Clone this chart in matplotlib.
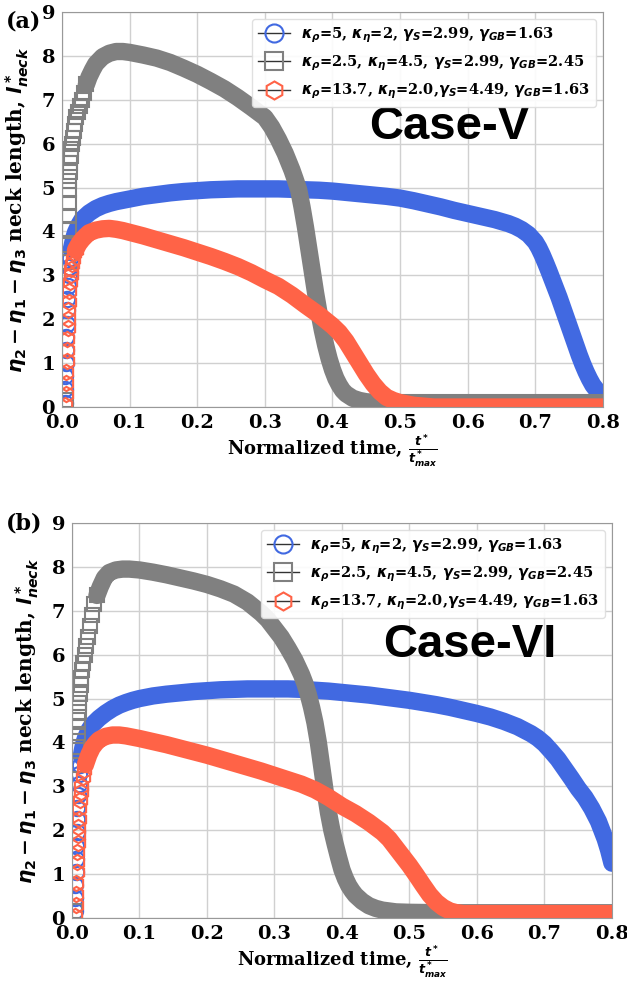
import matplotlib
matplotlib.use("Agg")
import matplotlib.pyplot as plt
from matplotlib.lines import Line2D

plt.rcParams["font.family"] = "DejaVu Serif"
plt.rcParams["font.weight"] = "bold"
plt.rcParams["mathtext.fontset"] = "dejavusans"

# ---------------- panel (a): Case-V ----------------
blue_a_t = [0.004, 0.0045, 0.005, 0.0055, 0.006, 0.0065, 0.007, 0.0075, 0.008,
            0.009, 0.010, 0.011, 0.012, 0.014, 0.016, 0.018, 0.02, 0.025, 0.03,
            0.04, 0.05, 0.06, 0.07, 0.08, 0.09, 0.10,
            0.12, 0.14, 0.16, 0.18, 0.20, 0.22, 0.24, 0.26, 0.28, 0.30,
            0.32, 0.34, 0.36, 0.38, 0.40, 0.42, 0.44, 0.46, 0.48, 0.50,
            0.52, 0.54, 0.56, 0.58, 0.60, 0.62, 0.64, 0.66,
            0.67, 0.68, 0.69, 0.70,
            0.705, 0.71, 0.715, 0.72, 0.725, 0.73, 0.735, 0.74, 0.745, 0.75,
            0.755, 0.76, 0.765, 0.77, 0.775, 0.78, 0.785, 0.79, 0.795, 0.80]
blue_a_v = [0.1, 0.4, 0.7, 1.0, 1.3, 1.6, 1.9, 2.2, 2.45,
            2.75, 3.0, 3.2, 3.4, 3.6, 3.75, 3.88, 3.98, 4.15, 4.28,
            4.42, 4.52, 4.59, 4.64, 4.68, 4.71, 4.74,
            4.8, 4.84, 4.88, 4.91, 4.93, 4.95, 4.96, 4.97, 4.97, 4.97,
            4.97, 4.96, 4.95, 4.94, 4.92, 4.89, 4.86, 4.83, 4.8, 4.76,
            4.7, 4.63, 4.56, 4.48, 4.41, 4.34, 4.27, 4.18,
            4.12, 4.04, 3.93, 3.76,
            3.63, 3.47, 3.29, 3.1, 2.9, 2.7, 2.5, 2.28, 2.06, 1.84,
            1.62, 1.4, 1.18, 0.98, 0.8, 0.64, 0.5, 0.4, 0.32, 0.26]

gray_a_t = [0.006, 0.009, 0.0093, 0.0096, 0.0099, 0.0102, 0.0105,
            0.011, 0.0116, 0.0123, 0.013, 0.014, 0.015, 0.016, 0.0175, 0.019,
            0.021, 0.023, 0.026, 0.029, 0.032, 0.036, 0.04, 0.045, 0.05,
            0.06, 0.07, 0.08, 0.09, 0.10,
            0.12, 0.14, 0.16, 0.18, 0.20, 0.22, 0.24, 0.26, 0.28, 0.30,
            0.31, 0.32, 0.33, 0.34,
            0.345, 0.35, 0.355, 0.36, 0.365, 0.37, 0.375, 0.38, 0.385, 0.39,
            0.395, 0.40, 0.405, 0.41, 0.415, 0.42,
            0.43, 0.44, 0.45, 0.47, 0.50,
            0.55, 0.60, 0.65, 0.70, 0.75, 0.80]
gray_a_v = [0.15, 3.3, 3.7, 4.05, 4.35, 4.65, 4.95,
            5.15, 5.35, 5.55, 5.72, 5.88, 6.0, 6.12, 6.3, 6.45,
            6.6, 6.72, 6.87, 7.0, 7.15, 7.35, 7.52, 7.68, 7.82,
            7.98, 8.06, 8.1, 8.1, 8.08,
            8.02, 7.95, 7.85, 7.72, 7.58, 7.42, 7.25, 7.05, 6.83, 6.6,
            6.38, 6.1, 5.78, 5.4,
            5.18, 4.95, 4.55, 4.1, 3.6, 3.1, 2.6, 2.15, 1.75, 1.4,
            1.1, 0.85, 0.65, 0.5, 0.38, 0.3,
            0.2, 0.15, 0.12, 0.1, 0.1,
            0.1, 0.1, 0.1, 0.1, 0.1, 0.1]

red_a_t = [0.005, 0.0055, 0.006, 0.0065, 0.007, 0.0075, 0.008, 0.0085, 0.009,
           0.0095, 0.010,
           0.011, 0.012, 0.013, 0.014, 0.015, 0.016, 0.018, 0.02,
           0.025, 0.03, 0.035, 0.04,
           0.05, 0.06, 0.07, 0.08, 0.09, 0.10,
           0.12, 0.14, 0.16, 0.18, 0.20, 0.22, 0.24, 0.26, 0.28, 0.30,
           0.32, 0.34, 0.36, 0.38, 0.40,
           0.41, 0.42, 0.43, 0.44, 0.45, 0.46, 0.47, 0.48, 0.49, 0.50,
           0.52, 0.55, 0.60, 0.65, 0.70, 0.75, 0.80]
red_a_v = [0.05, 0.3, 0.55, 0.8, 1.05, 1.3, 1.55, 1.8, 2.0,
           2.2, 2.4,
           2.65, 2.85, 3.0, 3.15, 3.27, 3.38, 3.5, 3.58,
           3.72, 3.82, 3.9, 3.97,
           4.03, 4.06, 4.07, 4.05, 4.02, 3.98,
           3.9, 3.81, 3.72, 3.63, 3.53, 3.43, 3.32, 3.2, 3.06, 2.9,
           2.75, 2.55, 2.32, 2.1, 1.85,
           1.7, 1.5, 1.25, 1.0, 0.75, 0.53, 0.35, 0.22, 0.15, 0.1,
           0.04, 0.0, 0.0, 0.0, 0.0, 0.0, 0.0]

# ---------------- panel (b): Case-VI ----------------
blue_b_t = [0.004, 0.0045, 0.005, 0.0055, 0.006, 0.0065, 0.007, 0.0075, 0.008,
            0.009, 0.010, 0.011, 0.012, 0.014, 0.016, 0.018, 0.02, 0.025, 0.03,
            0.04, 0.05, 0.06, 0.07, 0.08, 0.09, 0.10,
            0.12, 0.14, 0.16, 0.18, 0.20, 0.22, 0.24, 0.26, 0.28, 0.30,
            0.32, 0.34, 0.36, 0.38, 0.40, 0.42, 0.44, 0.46, 0.48, 0.50,
            0.52, 0.54, 0.56, 0.58, 0.60, 0.62, 0.64, 0.66, 0.68,
            0.69, 0.70, 0.71, 0.72, 0.73, 0.74, 0.75, 0.76, 0.77, 0.78,
            0.785, 0.79, 0.795, 0.80]
blue_b_v = [0.15, 0.45, 0.75, 1.05, 1.35, 1.65, 1.95, 2.25, 2.5,
            2.8, 3.05, 3.28, 3.48, 3.7, 3.87, 4.0, 4.1, 4.28, 4.4,
            4.55, 4.67, 4.77, 4.85, 4.91, 4.96, 5.0,
            5.06, 5.1, 5.13, 5.16, 5.18, 5.2, 5.21, 5.22, 5.22, 5.22,
            5.22, 5.21, 5.19, 5.17, 5.14, 5.11, 5.08, 5.04, 5.0, 4.96,
            4.91, 4.86, 4.8, 4.73, 4.66, 4.58, 4.48, 4.36, 4.2,
            4.1, 3.97, 3.8, 3.62, 3.4, 3.18, 2.95, 2.75, 2.5, 2.2,
            2.0, 1.8, 1.55, 1.25]

gray_b_t = [0.004, 0.0075, 0.008, 0.0085, 0.009, 0.0095, 0.0102, 0.011, 0.012,
            0.013, 0.014, 0.0155, 0.017, 0.019, 0.021, 0.023, 0.026, 0.029,
            0.033, 0.037, 0.042, 0.048, 0.055, 0.065, 0.075, 0.085, 0.10,
            0.12, 0.14, 0.16, 0.18, 0.20, 0.22, 0.24, 0.26, 0.28,
            0.29, 0.30, 0.31, 0.32, 0.33, 0.34,
            0.345, 0.35, 0.355, 0.36, 0.365, 0.37, 0.375, 0.38, 0.385, 0.39,
            0.395, 0.40, 0.405, 0.41, 0.415, 0.42,
            0.43, 0.44, 0.45, 0.46, 0.48, 0.50,
            0.55, 0.60, 0.65, 0.70, 0.75, 0.80]
gray_b_v = [0.15, 3.48, 3.9, 4.15, 4.35, 4.52, 4.7, 4.9, 5.1,
            5.3, 5.48, 5.65, 5.82, 6.0, 6.2, 6.4, 6.65, 6.9,
            7.15, 7.35, 7.55, 7.75, 7.87, 7.93, 7.95, 7.95, 7.93,
            7.88, 7.82, 7.75, 7.68, 7.6, 7.5, 7.38, 7.2, 6.95,
            6.8, 6.6, 6.4, 6.15, 5.88, 5.55,
            5.35, 5.1, 4.8, 4.45, 4.0, 3.45, 2.9, 2.4, 2.0, 1.68,
            1.38, 1.1, 0.9, 0.74, 0.62, 0.52,
            0.38, 0.28, 0.22, 0.18, 0.14, 0.13,
            0.12, 0.12, 0.12, 0.12, 0.12, 0.12]

red_b_t = [0.005, 0.0055, 0.006, 0.0065, 0.007, 0.0075, 0.008, 0.0085, 0.009,
           0.0095, 0.010, 0.011, 0.012, 0.013, 0.014, 0.016, 0.018, 0.02,
           0.025, 0.03, 0.035, 0.04, 0.05, 0.06, 0.07, 0.08, 0.09, 0.10,
           0.12, 0.14, 0.16, 0.18, 0.20, 0.22, 0.24, 0.26, 0.28, 0.30,
           0.32, 0.34, 0.36, 0.38, 0.40, 0.42, 0.44, 0.46,
           0.47, 0.48, 0.49, 0.50, 0.51, 0.52, 0.53, 0.54, 0.55, 0.56, 0.57, 0.58,
           0.60, 0.65, 0.70, 0.75, 0.80]
red_b_v = [0.05, 0.3, 0.55, 0.8, 1.05, 1.28, 1.5, 1.7, 1.9,
           2.08, 2.25, 2.5, 2.7, 2.88, 3.0, 3.22, 3.38, 3.5,
           3.72, 3.88, 3.98, 4.06, 4.14, 4.17, 4.17, 4.15, 4.12, 4.09,
           4.02, 3.95, 3.87, 3.79, 3.71, 3.62, 3.53, 3.44, 3.35, 3.25,
           3.15, 3.05, 2.92, 2.75, 2.55, 2.38, 2.18, 1.95,
           1.8, 1.6, 1.4, 1.2, 0.98, 0.75, 0.53, 0.36, 0.24, 0.16, 0.12, 0.1,
           0.1, 0.1, 0.1, 0.1, 0.1]

labels = [
    r"$\boldsymbol{\kappa_\rho}$=5, $\boldsymbol{\kappa_\eta}$=2, "
    r"$\boldsymbol{\gamma_S}$=2.99, $\boldsymbol{\gamma_{GB}}$=1.63",
    r"$\boldsymbol{\kappa_\rho}$=2.5, $\boldsymbol{\kappa_\eta}$=4.5, "
    r"$\boldsymbol{\gamma_S}$=2.99, $\boldsymbol{\gamma_{GB}}$=2.45",
    r"$\boldsymbol{\kappa_\rho}$=13.7, $\boldsymbol{\kappa_\eta}$=2.0,"
    r"$\boldsymbol{\gamma_S}$=4.49, $\boldsymbol{\gamma_{GB}}$=1.63",
]
xticks = [0.0, 0.1, 0.2, 0.3, 0.4, 0.5, 0.6, 0.7, 0.8]
yticks = [0, 1, 2, 3, 4, 5, 6, 7, 8, 9]

colors = ["#4169E1", "#808080", "#FF6347"]
markers = ["o", "s", "h"]
msizes = [11, 9.5, 11]
band_from = [0.014, 0.035, 0.02]   # where the marker cloud turns into a solid band


def draw_panel(ax, series, case_text, case_xy):
    for (t, v), c, m, ms, t0 in zip(series, colors, markers, msizes, band_from):
        i0 = next(i for i, x in enumerate(t) if x >= t0)
        ax.plot(t[i0:], v[i0:], color=c, lw=12.5, solid_capstyle="round",
                solid_joinstyle="round", zorder=2)
        ax.plot(t[:i0 + 1], v[:i0 + 1], ls="none", marker=m, ms=ms, mfc="none",
                mec=c, mew=1.5, zorder=2)

    ax.set_xlim(0, 0.8); ax.set_ylim(0, 9)
    ax.set_xticks(xticks); ax.set_yticks(yticks)
    ax.set_xticklabels([f"{x:.1f}" for x in xticks])
    ax.tick_params(labelsize=14, length=0, pad=5)
    ax.grid(True, color="#d0d0d0", lw=1); ax.set_axisbelow(True)
    for sp in ax.spines.values():
        sp.set_color("#999999")

    ax.set_xlabel(r"Normalized time, $\boldsymbol{\frac{t^*}{t^*_{max}}}$",
                  fontsize=13, fontweight="bold", labelpad=0)
    ax.set_ylabel(r"$\boldsymbol{\eta_2 - \eta_1 - \eta_3}$ neck length, "
                  r"$\boldsymbol{l^*_{neck}}$", fontsize=14.5, fontweight="bold")
    ax.yaxis.set_label_coords(-0.058, 0.5)

    handles = [Line2D([0], [0], color="#333333", lw=1, marker=m, ms=13, mfc="none",
                      mec=c, mew=1.5) for c, m in zip(colors, markers)]
    ax.legend(handles, labels, loc="upper right", handlelength=2.2, labelspacing=0.6,
              framealpha=0.9, edgecolor="#dddddd", prop={"weight": "bold", "size": 10.5})
    ax.text(case_xy[0], case_xy[1], case_text, fontsize=34, fontweight="bold",
            family="Liberation Sans", ha="center", va="center")


fig = plt.figure(figsize=(6.27, 9.93), dpi=100)
ax_a = fig.add_axes([0.0989, 0.5901, 0.8628, 0.3978])
ax_b = fig.add_axes([0.1148, 0.0755, 0.8612, 0.3978])

draw_panel(ax_a, [(blue_a_t, blue_a_v), (gray_a_t, gray_a_v), (red_a_t, red_a_v)],
           "Case-V", (0.572, 6.38))
draw_panel(ax_b, [(blue_b_t, blue_b_v), (gray_b_t, gray_b_v), (red_b_t, red_b_v)],
           "Case-VI", (0.59, 6.22))

fig.text(0.01, 0.978, "(a)", fontsize=16, fontweight="bold", va="center")
fig.text(0.01, 0.4733, "(b)", fontsize=16, fontweight="bold", va="center")

fig.savefig("out.png", dpi=100)
